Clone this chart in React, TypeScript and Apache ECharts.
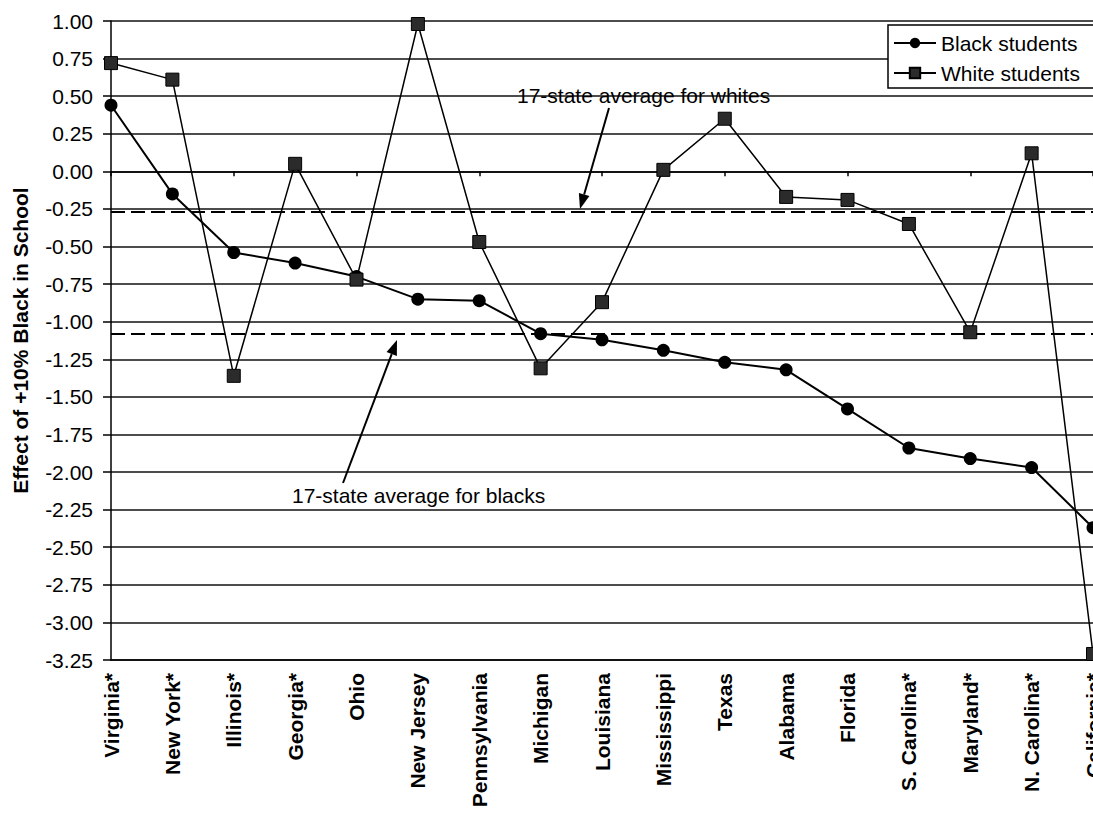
import React, { useEffect, useRef } from "react";
import * as echarts from "echarts";

const states = [
  "Virginia*", "New York*", "Illinois*", "Georgia*", "Ohio", "New Jersey",
  "Pennsylvania", "Michigan", "Louisiana", "Mississippi", "Texas", "Alabama",
  "Florida", "S. Carolina*", "Maryland*", "N. Carolina*", "California*",
];
const blackStudents = [
  0.44, -0.15, -0.54, -0.61, -0.70, -0.85, -0.86, -1.08, -1.12, -1.19,
  -1.27, -1.32, -1.58, -1.84, -1.91, -1.97, -2.37,
];
const whiteStudents = [
  0.72, 0.61, -1.36, 0.05, -0.72, 0.98, -0.47, -1.31, -0.87, 0.01,
  0.35, -0.17, -0.19, -0.35, -1.07, 0.12, -3.21,
];
const whiteAverage = -0.27;
const blackAverage = -1.08;
const yMin = -3.25;
const yMax = 1.0;
const yStep = 0.25;

const FONT = "'Liberation Sans', Arial, sans-serif";

function arrow(x1: number, y1: number, x2: number, y2: number) {
  const dx = x2 - x1;
  const dy = y2 - y1;
  const len = Math.sqrt(dx * dx + dy * dy);
  const ux = dx / len;
  const uy = dy / len;
  const hl = 15;
  const hw = 5.5;
  const bx = x2 - ux * hl;
  const by = y2 - uy * hl;
  return [
    {
      type: "line",
      shape: { x1, y1, x2: bx, y2: by },
      style: { stroke: "#000", lineWidth: 2 },
      z: 10,
    },
    {
      type: "polygon",
      shape: {
        points: [
          [x2, y2],
          [bx - uy * hw, by + ux * hw],
          [bx + uy * hw, by - ux * hw],
        ],
      },
      style: { fill: "#000" },
      z: 10,
    },
  ];
}

export default function App() {
  const ref = useRef<HTMLDivElement>(null);
  useEffect(() => {
    if (!ref.current) return;
    const chart = echarts.init(ref.current, undefined, { renderer: "svg" });
    chart.setOption({
      animation: false,
      backgroundColor: "#fff",
      textStyle: { fontFamily: FONT },
      grid: {
        left: 111,
        top: 21,
        right: 0,
        bottom: 159,
        containLabel: false,
        outerBoundsMode: "none",
      },
      legend: {
        left: 888,
        top: 25,
        orient: "vertical",
        backgroundColor: "#fff",
        borderColor: "#000",
        borderWidth: 1.5,
        borderRadius: 0,
        padding: [6, 24, 3, 5],
        itemWidth: 42,
        itemHeight: 13,
        itemGap: 6,
        textStyle: { fontSize: 21, color: "#000", fontFamily: FONT, lineHeight: 24 },
        data: ["Black students", "White students"],
        z: 20,
      },
      xAxis: [
        {
          type: "category",
          data: states,
          boundaryGap: false,
          position: "bottom",
          axisLine: { onZero: false, lineStyle: { color: "#000", width: 1.5 } },
          axisTick: { show: false },
          axisLabel: {
            rotate: 90,
            interval: 0,
            margin: 13,
            fontSize: 21,
            fontWeight: "bold",
            color: "#000",
            fontFamily: FONT,
            hideOverlap: false,
          },
          splitLine: { show: false },
        },
        {
          type: "category",
          data: states,
          boundaryGap: false,
          position: "bottom",
          axisLine: { onZero: true, show: true, lineStyle: { color: "#000", width: 1.5 } },
          axisTick: { show: true, length: 5, inside: false, lineStyle: { color: "#000", width: 1.5 } },
          axisLabel: { show: false },
          splitLine: { show: false },
        },
      ],
      yAxis: {
        type: "value",
        min: yMin,
        max: yMax,
        interval: yStep,
        name: "Effect of +10% Black in School",
        nameLocation: "middle",
        nameGap: 80,
        nameTextStyle: { fontSize: 21, fontWeight: "bold", color: "#000", fontFamily: FONT },
        axisLine: { show: true, lineStyle: { color: "#000", width: 1.5 } },
        axisTick: { show: true, length: 8, lineStyle: { color: "#000", width: 1.5 } },
        axisLabel: {
          margin: 18,
          fontSize: 21,
          color: "#000",
          fontFamily: FONT,
          formatter: (v: number) => v.toFixed(2),
        },
        splitLine: { show: true, lineStyle: { color: "#111", width: 1.5 } },
      },
      series: [
        {
          name: "Black students",
          type: "line",
          xAxisIndex: 0,
          data: blackStudents,
          symbol: "circle",
          symbolSize: 13,
          itemStyle: { color: "#000" },
          lineStyle: { color: "#000", width: 2 },
          z: 5,
          markLine: {
            silent: true,
            symbol: "none",
            label: { show: false },
            lineStyle: { color: "#000", width: 1.8, type: [14, 6] },
            data: [{ yAxis: blackAverage }, { yAxis: whiteAverage }],
          },
        },
        {
          name: "White students",
          type: "line",
          xAxisIndex: 0,
          data: whiteStudents,
          symbol: "rect",
          symbolSize: 13,
          itemStyle: { color: "#2b2b2b", borderColor: "#000", borderWidth: 1 },
          lineStyle: { color: "#000", width: 1.5 },
          z: 6,
        },
      ],
      graphic: [
        {
          type: "text",
          left: 517,
          top: 85,
          z: 10,
          style: {
            text: "17-state average for whites",
            font: `21px ${FONT}`,
            fill: "#000",
          },
        },
        {
          type: "text",
          left: 292,
          top: 485,
          z: 10,
          style: {
            text: "17-state average for blacks",
            font: `21px ${FONT}`,
            fill: "#000",
          },
        },
        ...arrow(609, 108, 580, 209),
        ...arrow(343, 483, 397, 340),
      ],
    });
    return () => chart.dispose();
  }, []);
  return (
    <div
      ref={ref}
      style={{ position: "fixed", left: 0, top: 0, width: 1093, height: 819, background: "#fff" }}
    />
  );
}
